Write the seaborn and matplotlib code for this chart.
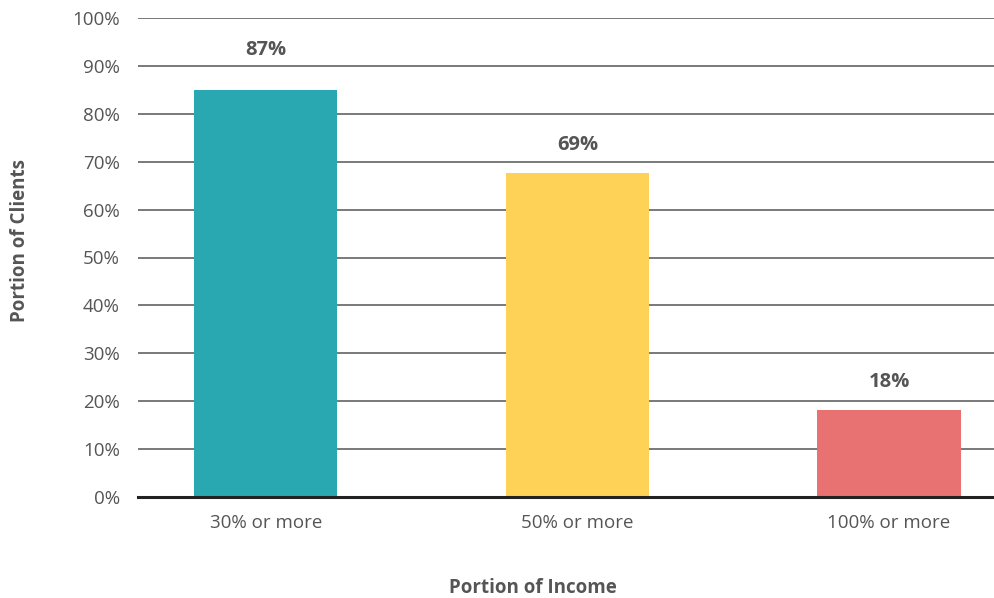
import matplotlib
matplotlib.use("Agg")
import matplotlib.pyplot as plt
import seaborn as sns
import pandas as pd

categories = ["30% or more", "50% or more", "100% or more"]
bar_values = [85.0, 67.6, 18.2]
label_texts = ["87%", "69%", "18%"]
colors = ["#29A8B1", "#FDD257", "#E87171"]
y_ticks = [0, 10, 20, 30, 40, 50, 60, 70, 80, 90, 100]
y_tick_labels = [f"{t}%" for t in y_ticks]

sns.set_theme(style="white")
plt.rcParams["font.family"] = ["Open Sans", "DejaVu Sans"]

df = pd.DataFrame({"cat": categories, "val": bar_values})

W, H = 995, 598
fig = plt.figure(figsize=(W / 100, H / 100), dpi=100)
ax = fig.add_axes([138 / W, 1 - 497 / H, (995 - 138) / W, (497 - 18) / H])

ax.set_axisbelow(True)
for t in y_ticks[1:]:
    ax.axhline(t, color="#555555", linewidth=1.1, zorder=0)

sns.barplot(data=df, x="cat", y="val", hue="cat", palette=colors,
            width=0.46, legend=False, ax=ax, saturation=1, zorder=2,
            linewidth=0)

ax.set_xlim(-0.41, 2.34)
ax.set_ylim(0, 100)
ax.set_yticks(y_ticks)
ax.set_yticklabels(y_tick_labels)
ax.tick_params(axis="y", length=0, pad=13, labelsize=13.5, labelcolor="#555555")
ax.tick_params(axis="x", length=0, pad=12, labelsize=13.5, labelcolor="#555555")
for s in ["top", "right", "left"]:
    ax.spines[s].set_visible(False)
ax.spines["bottom"].set_color("#222222")
ax.spines["bottom"].set_linewidth(2.2)
ax.spines["bottom"].set_zorder(5)
ax.set_xlabel("")
ax.set_ylabel("")

offsets = [29, 20, 20]
for i, (v, txt) in enumerate(zip(bar_values, label_texts)):
    ax.annotate(txt, xy=(i, v), xytext=(0, offsets[i]), textcoords="offset points",
                ha="center", va="center", fontsize=14.5, fontweight="bold", color="#555555")

fig.text(533 / W, 1 - 588 / H, "Portion of Income", ha="center", va="center",
         fontsize=13.5, fontweight="bold", color="#555555")
fig.text(20 / W, 1 - 240 / H, "Portion of Clients", ha="center", va="center",
         rotation=90, fontsize=13.5, fontweight="bold", color="#555555")

fig.savefig("out.png", dpi=100)
